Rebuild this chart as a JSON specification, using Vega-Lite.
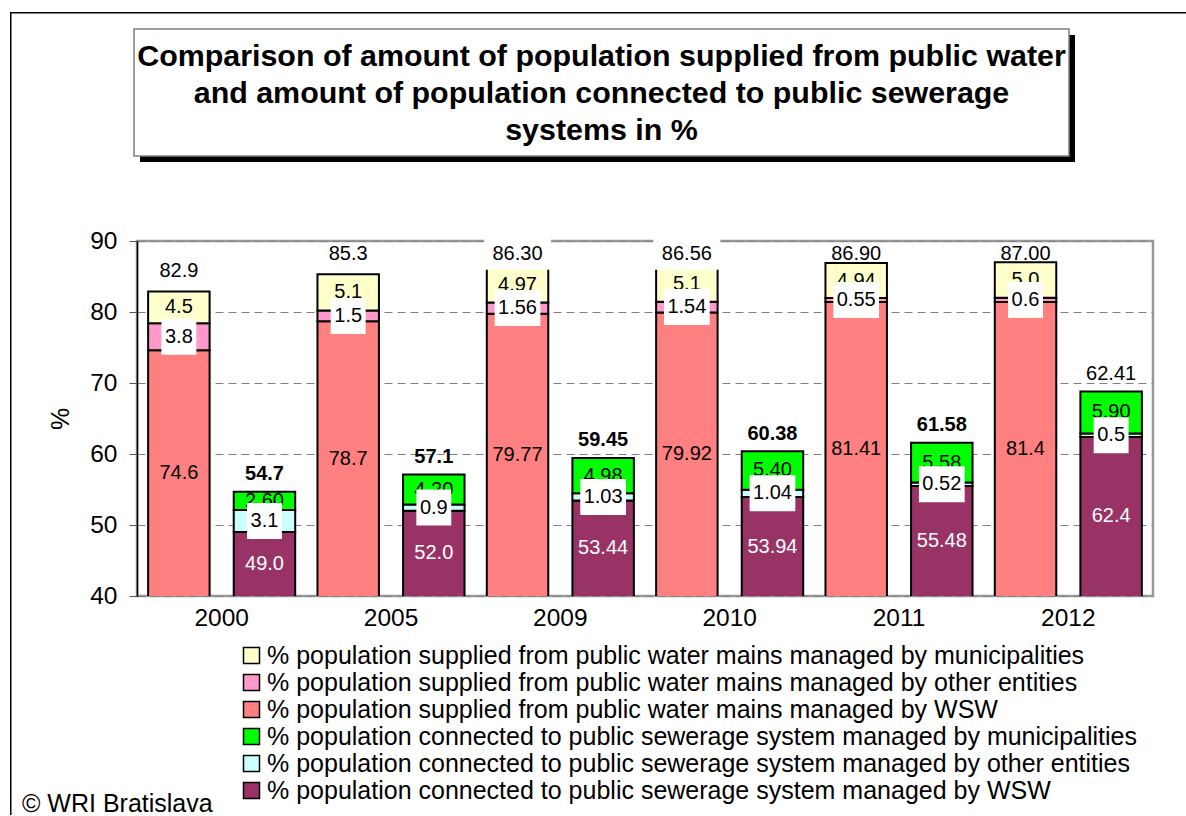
{
  "$schema": "https://vega.github.io/schema/vega-lite/v6.json",
  "padding": {"left": 10, "top": 12, "right": 0, "bottom": 0},
  "bounds": "flush",
  "spacing": 85,
  "resolve": {"scale": {"x": "independent", "y": "independent"}},
  "config": {"font": "Liberation Sans", "view": {"stroke": null}},
  "datasets": {
    "seg": [
      {"year": "2000", "type": "water", "owner": "WSW", "value": 74.6, "label": "74.6"},
      {"year": "2000", "type": "water", "owner": "other entities", "value": 3.8, "label": "3.8"},
      {"year": "2000", "type": "water", "owner": "municipalities", "value": 4.5, "label": "4.5"},
      {"year": "2000", "type": "sewer", "owner": "WSW", "value": 49.0, "label": "49.0"},
      {"year": "2000", "type": "sewer", "owner": "other entities", "value": 3.1, "label": "3.1"},
      {"year": "2000", "type": "sewer", "owner": "municipalities", "value": 2.6, "label": "2.60"},
      {"year": "2005", "type": "water", "owner": "WSW", "value": 78.7, "label": "78.7"},
      {"year": "2005", "type": "water", "owner": "other entities", "value": 1.5, "label": "1.5"},
      {"year": "2005", "type": "water", "owner": "municipalities", "value": 5.1, "label": "5.1"},
      {"year": "2005", "type": "sewer", "owner": "WSW", "value": 52.0, "label": "52.0"},
      {"year": "2005", "type": "sewer", "owner": "other entities", "value": 0.9, "label": "0.9"},
      {"year": "2005", "type": "sewer", "owner": "municipalities", "value": 4.2, "label": "4.20"},
      {"year": "2009", "type": "water", "owner": "WSW", "value": 79.77, "label": "79.77"},
      {"year": "2009", "type": "water", "owner": "other entities", "value": 1.56, "label": "1.56"},
      {"year": "2009", "type": "water", "owner": "municipalities", "value": 4.97, "label": "4.97"},
      {"year": "2009", "type": "sewer", "owner": "WSW", "value": 53.44, "label": "53.44"},
      {"year": "2009", "type": "sewer", "owner": "other entities", "value": 1.03, "label": "1.03"},
      {"year": "2009", "type": "sewer", "owner": "municipalities", "value": 4.98, "label": "4.98"},
      {"year": "2010", "type": "water", "owner": "WSW", "value": 79.92, "label": "79.92"},
      {"year": "2010", "type": "water", "owner": "other entities", "value": 1.54, "label": "1.54"},
      {"year": "2010", "type": "water", "owner": "municipalities", "value": 5.1, "label": "5.1"},
      {"year": "2010", "type": "sewer", "owner": "WSW", "value": 53.94, "label": "53.94"},
      {"year": "2010", "type": "sewer", "owner": "other entities", "value": 1.04, "label": "1.04"},
      {"year": "2010", "type": "sewer", "owner": "municipalities", "value": 5.4, "label": "5.40"},
      {"year": "2011", "type": "water", "owner": "WSW", "value": 81.41, "label": "81.41"},
      {"year": "2011", "type": "water", "owner": "other entities", "value": 0.55, "label": "0.55"},
      {"year": "2011", "type": "water", "owner": "municipalities", "value": 4.94, "label": "4.94"},
      {"year": "2011", "type": "sewer", "owner": "WSW", "value": 55.48, "label": "55.48"},
      {"year": "2011", "type": "sewer", "owner": "other entities", "value": 0.52, "label": "0.52"},
      {"year": "2011", "type": "sewer", "owner": "municipalities", "value": 5.58, "label": "5.58"},
      {"year": "2012", "type": "water", "owner": "WSW", "value": 81.4, "label": "81.4"},
      {"year": "2012", "type": "water", "owner": "other entities", "value": 0.6, "label": "0.6"},
      {"year": "2012", "type": "water", "owner": "municipalities", "value": 5.0, "label": "5.0"},
      {"year": "2012", "type": "sewer", "owner": "WSW", "value": 62.4, "label": "62.4"},
      {"year": "2012", "type": "sewer", "owner": "other entities", "value": 0.5, "label": "0.5"},
      {"year": "2012", "type": "sewer", "owner": "municipalities", "value": 5.9, "label": "5.90"}
    ],
    "tot": [
      {"year": "2000", "type": "water", "total": 82.9, "label": "82.9"},
      {"year": "2005", "type": "water", "total": 85.3, "label": "85.3"},
      {"year": "2009", "type": "water", "total": 86.3, "label": "86.30"},
      {"year": "2010", "type": "water", "total": 86.56, "label": "86.56"},
      {"year": "2011", "type": "water", "total": 86.9, "label": "86.90"},
      {"year": "2012", "type": "water", "total": 87.0, "label": "87.00"},
      {"year": "2000", "type": "sewer", "total": 54.7, "label": "54.7"},
      {"year": "2005", "type": "sewer", "total": 57.1, "label": "57.1"},
      {"year": "2009", "type": "sewer", "total": 59.45, "label": "59.45"},
      {"year": "2010", "type": "sewer", "total": 60.38, "label": "60.38"},
      {"year": "2011", "type": "sewer", "total": 61.58, "label": "61.58"},
      {"year": "2012", "type": "sewer", "total": 68.8, "label": "62.41"}
    ]
  },
  "vconcat": [
    {
      "width": 935,
      "height": 127,
      "view": {"stroke": null},
      "data": {"values": [{"title": "Comparison of amount of population supplied from public water\nand amount of population connected to public sewerage\nsystems in %"}]},
      "encoding": {
        "x": {"datum": 0, "type": "quantitative", "scale": {"domain": [0, 1], "nice": false, "zero": false}, "axis": null},
        "x2": {"datum": 1},
        "y": {"datum": 1, "type": "quantitative", "scale": {"domain": [0, 1], "nice": false, "zero": false}, "axis": null},
        "y2": {"datum": 0}
      },
      "layer": [
        {"mark": {"type": "rect", "fill": "black", "xOffset": -127, "x2Offset": -125.5, "yOffset": -17, "y2Offset": 659},
         "encoding": {"x2": {"datum": 0}}},
        {"mark": {"type": "rect", "fill": "black", "xOffset": -127, "x2Offset": 114, "yOffset": -17, "y2Offset": -15.5},
         "encoding": {"y2": {"datum": 1}}},
        {"mark": {"type": "rect", "fill": "black", "xOffset": 3, "x2Offset": 3, "yOffset": 6, "y2Offset": 6}},
        {"mark": {"type": "rect", "fill": "white", "stroke": "#808080", "strokeWidth": 1.5, "xOffset": -3, "x2Offset": -3}},
        {
          "mark": {"type": "text", "font": "Liberation Sans", "fontWeight": "bold", "fontSize": 30.4, "lineHeight": 37, "align": "center", "baseline": "middle", "lineBreak": "\n", "xOffset": -3, "dy": -35.5, "color": "black"},
          "encoding": {"x": null, "x2": null, "y": null, "y2": null, "text": {"field": "title"}}
        }
      ]
    },
    {
      "width": 1016,
      "height": 355,
      "view": {"stroke": "#999999", "strokeWidth": 2.5},
      "title": {"text": "© WRI Bratislava", "orient": "bottom", "anchor": "start", "frame": "group", "offset": 182, "dx": -115, "fontSize": 25, "font": "Liberation Sans", "fontWeight": "normal", "color": "black", "baseline": "alphabetic"},
      "encoding": {
        "x": {"field": "year", "type": "nominal", "scale": {"paddingInner": 0, "paddingOuter": 0}, "axis": {"title": null, "labelFontSize": 24.5, "labelFont": "Liberation Sans", "labelColor": "black", "ticks": false, "domain": false, "labelPadding": 10, "labelAngle": 0}},
        "xOffset": {"field": "type", "type": "nominal", "sort": ["water", "sewer"], "scale": {"paddingInner": 0.282, "paddingOuter": 0.13}}
      },
      "layer": [
        {
          "data": {"name": "seg"},
          "transform": [
            {"calculate": "indexof(['WSW','other entities','municipalities'], datum.owner)", "as": "rank"},
            {"calculate": "(datum.type == 'water' ? '% population supplied from public water mains managed by ' : '% population connected to public sewerage system managed by ') + datum.owner", "as": "series"},
            {"stack": "value", "groupby": ["year", "type"], "sort": [{"field": "rank", "order": "ascending"}], "as": ["y0", "y1"]},
            {"calculate": "(max(datum.y0, 40) + datum.y1) / 2", "as": "mid"}
          ],
          "layer": [
            {
              "mark": {"type": "bar", "stroke": "black", "strokeWidth": 2, "clip": true},
              "encoding": {
                "y": {"field": "y0", "type": "quantitative", "title": "%", "scale": {"domain": [40, 90], "nice": false, "zero": false},
                  "axis": {"title": "%", "values": [40, 50, 60, 70, 80, 90], "labelFontSize": 24.5, "labelFont": "Liberation Sans", "labelColor": "black", "tickSize": 8, "tickColor": "#555555", "tickWidth": 1, "labelPadding": 12, "domainColor": "black", "domainWidth": 1.5, "grid": true, "gridColor": "#808080", "gridDash": [8, 5], "gridWidth": 1, "titleFontSize": 25, "titleFont": "Liberation Sans", "titleFontWeight": "normal", "titleColor": "black", "titlePadding": 16}},
                "y2": {"field": "y1"},
                "color": {"field": "series", "type": "nominal",
                  "scale": {
                    "domain": [
                      "% population supplied from public water mains managed by municipalities",
                      "% population supplied from public water mains managed by other entities",
                      "% population supplied from public water mains managed by WSW",
                      "% population connected to public sewerage system managed by municipalities",
                      "% population connected to public sewerage system managed by other entities",
                      "% population connected to public sewerage system managed by WSW"
                    ],
                    "range": ["#FFFFCC", "#FF99CC", "#FF8080", "#00FF00", "#CCFFFF", "#993366"]
                  },
                  "legend": {"orient": "none", "legendX": 102, "legendY": 614, "title": null, "labelFontSize": 25, "labelFont": "Liberation Sans", "labelColor": "black", "symbolType": "square", "symbolSize": 256, "symbolStrokeColor": "black", "symbolStrokeWidth": 1.5, "symbolOpacity": 1, "labelLimit": 0, "rowPadding": 1, "labelOffset": 3, "padding": 0, "direction": "vertical"}
                }
              }
            },
            {
              "transform": [{"filter": "datum.owner == 'municipalities'"}],
              "mark": {"type": "text", "fontSize": 20, "font": "Liberation Sans", "baseline": "middle", "color": "black"},
              "encoding": {"y": {"field": "mid", "type": "quantitative", "title": "%", "scale": {"domain": [40, 90], "nice": false, "zero": false}}, "text": {"field": "label"}}
            },
            {
              "transform": [{"filter": "datum.owner == 'other entities' && length(datum.label) == 3"}],
              "mark": {"type": "point", "shape": "M-0.97,-1H0.97V1H-0.97Z", "size": 1296, "filled": true, "fill": "white", "strokeWidth": 0, "opacity": 1},
              "encoding": {"y": {"field": "mid", "type": "quantitative", "title": "%", "scale": {"domain": [40, 90], "nice": false, "zero": false}}}
            },
            {
              "transform": [{"filter": "datum.owner == 'other entities' && length(datum.label) == 4"}],
              "mark": {"type": "point", "shape": "M-1.27,-1H1.27V1H-1.27Z", "size": 1296, "filled": true, "fill": "white", "strokeWidth": 0, "opacity": 1},
              "encoding": {"y": {"field": "mid", "type": "quantitative", "title": "%", "scale": {"domain": [40, 90], "nice": false, "zero": false}}}
            },
            {
              "transform": [{"filter": "datum.owner == 'other entities'"}],
              "mark": {"type": "text", "fontSize": 20, "font": "Liberation Sans", "baseline": "middle", "color": "black"},
              "encoding": {"y": {"field": "mid", "type": "quantitative", "title": "%", "scale": {"domain": [40, 90], "nice": false, "zero": false}}, "text": {"field": "label"}}
            },
            {
              "transform": [{"filter": "datum.owner == 'WSW'"}],
              "mark": {"type": "text", "fontSize": 20, "font": "Liberation Sans", "baseline": "middle"},
              "encoding": {"y": {"field": "mid", "type": "quantitative", "title": "%", "scale": {"domain": [40, 90], "nice": false, "zero": false}}, "text": {"field": "label"},
                "color": {"condition": {"test": "datum.type == 'sewer'", "value": "white"}, "value": "black"}}
            }
          ]
        },
        {
          "data": {"name": "tot"},
          "transform": [{"calculate": "min(datum.total + (datum.type == 'water' ? 2.82 : 2.5), 88.2)", "as": "ly"}],
          "layer": [
            {
              "transform": [{"filter": "datum.type == 'water' && (datum.year == '2009' || datum.year == '2010')"}],
              "mark": {"type": "point", "shape": "M-2.09,-1H2.09V1H-2.09Z", "size": 1024, "filled": true, "fill": "white", "strokeWidth": 0, "opacity": 1},
              "encoding": {"y": {"field": "ly", "type": "quantitative", "title": "%", "scale": {"domain": [40, 90], "nice": false, "zero": false}}}
            },
            {
              "transform": [{"filter": "datum.type == 'water' || datum.year == '2012'"}],
              "mark": {"type": "text", "fontSize": 20, "font": "Liberation Sans", "baseline": "middle", "color": "black"},
              "encoding": {"y": {"field": "ly", "type": "quantitative", "title": "%", "scale": {"domain": [40, 90], "nice": false, "zero": false}}, "text": {"field": "label"}}
            },
            {
              "transform": [{"filter": "datum.type == 'sewer' && datum.year != '2012'"}],
              "mark": {"type": "text", "fontSize": 20, "font": "Liberation Sans", "fontWeight": "bold", "baseline": "middle", "color": "black"},
              "encoding": {"y": {"field": "ly", "type": "quantitative", "title": "%", "scale": {"domain": [40, 90], "nice": false, "zero": false}}, "text": {"field": "label"}}
            }
          ]
        }
      ]
    }
  ]
}
